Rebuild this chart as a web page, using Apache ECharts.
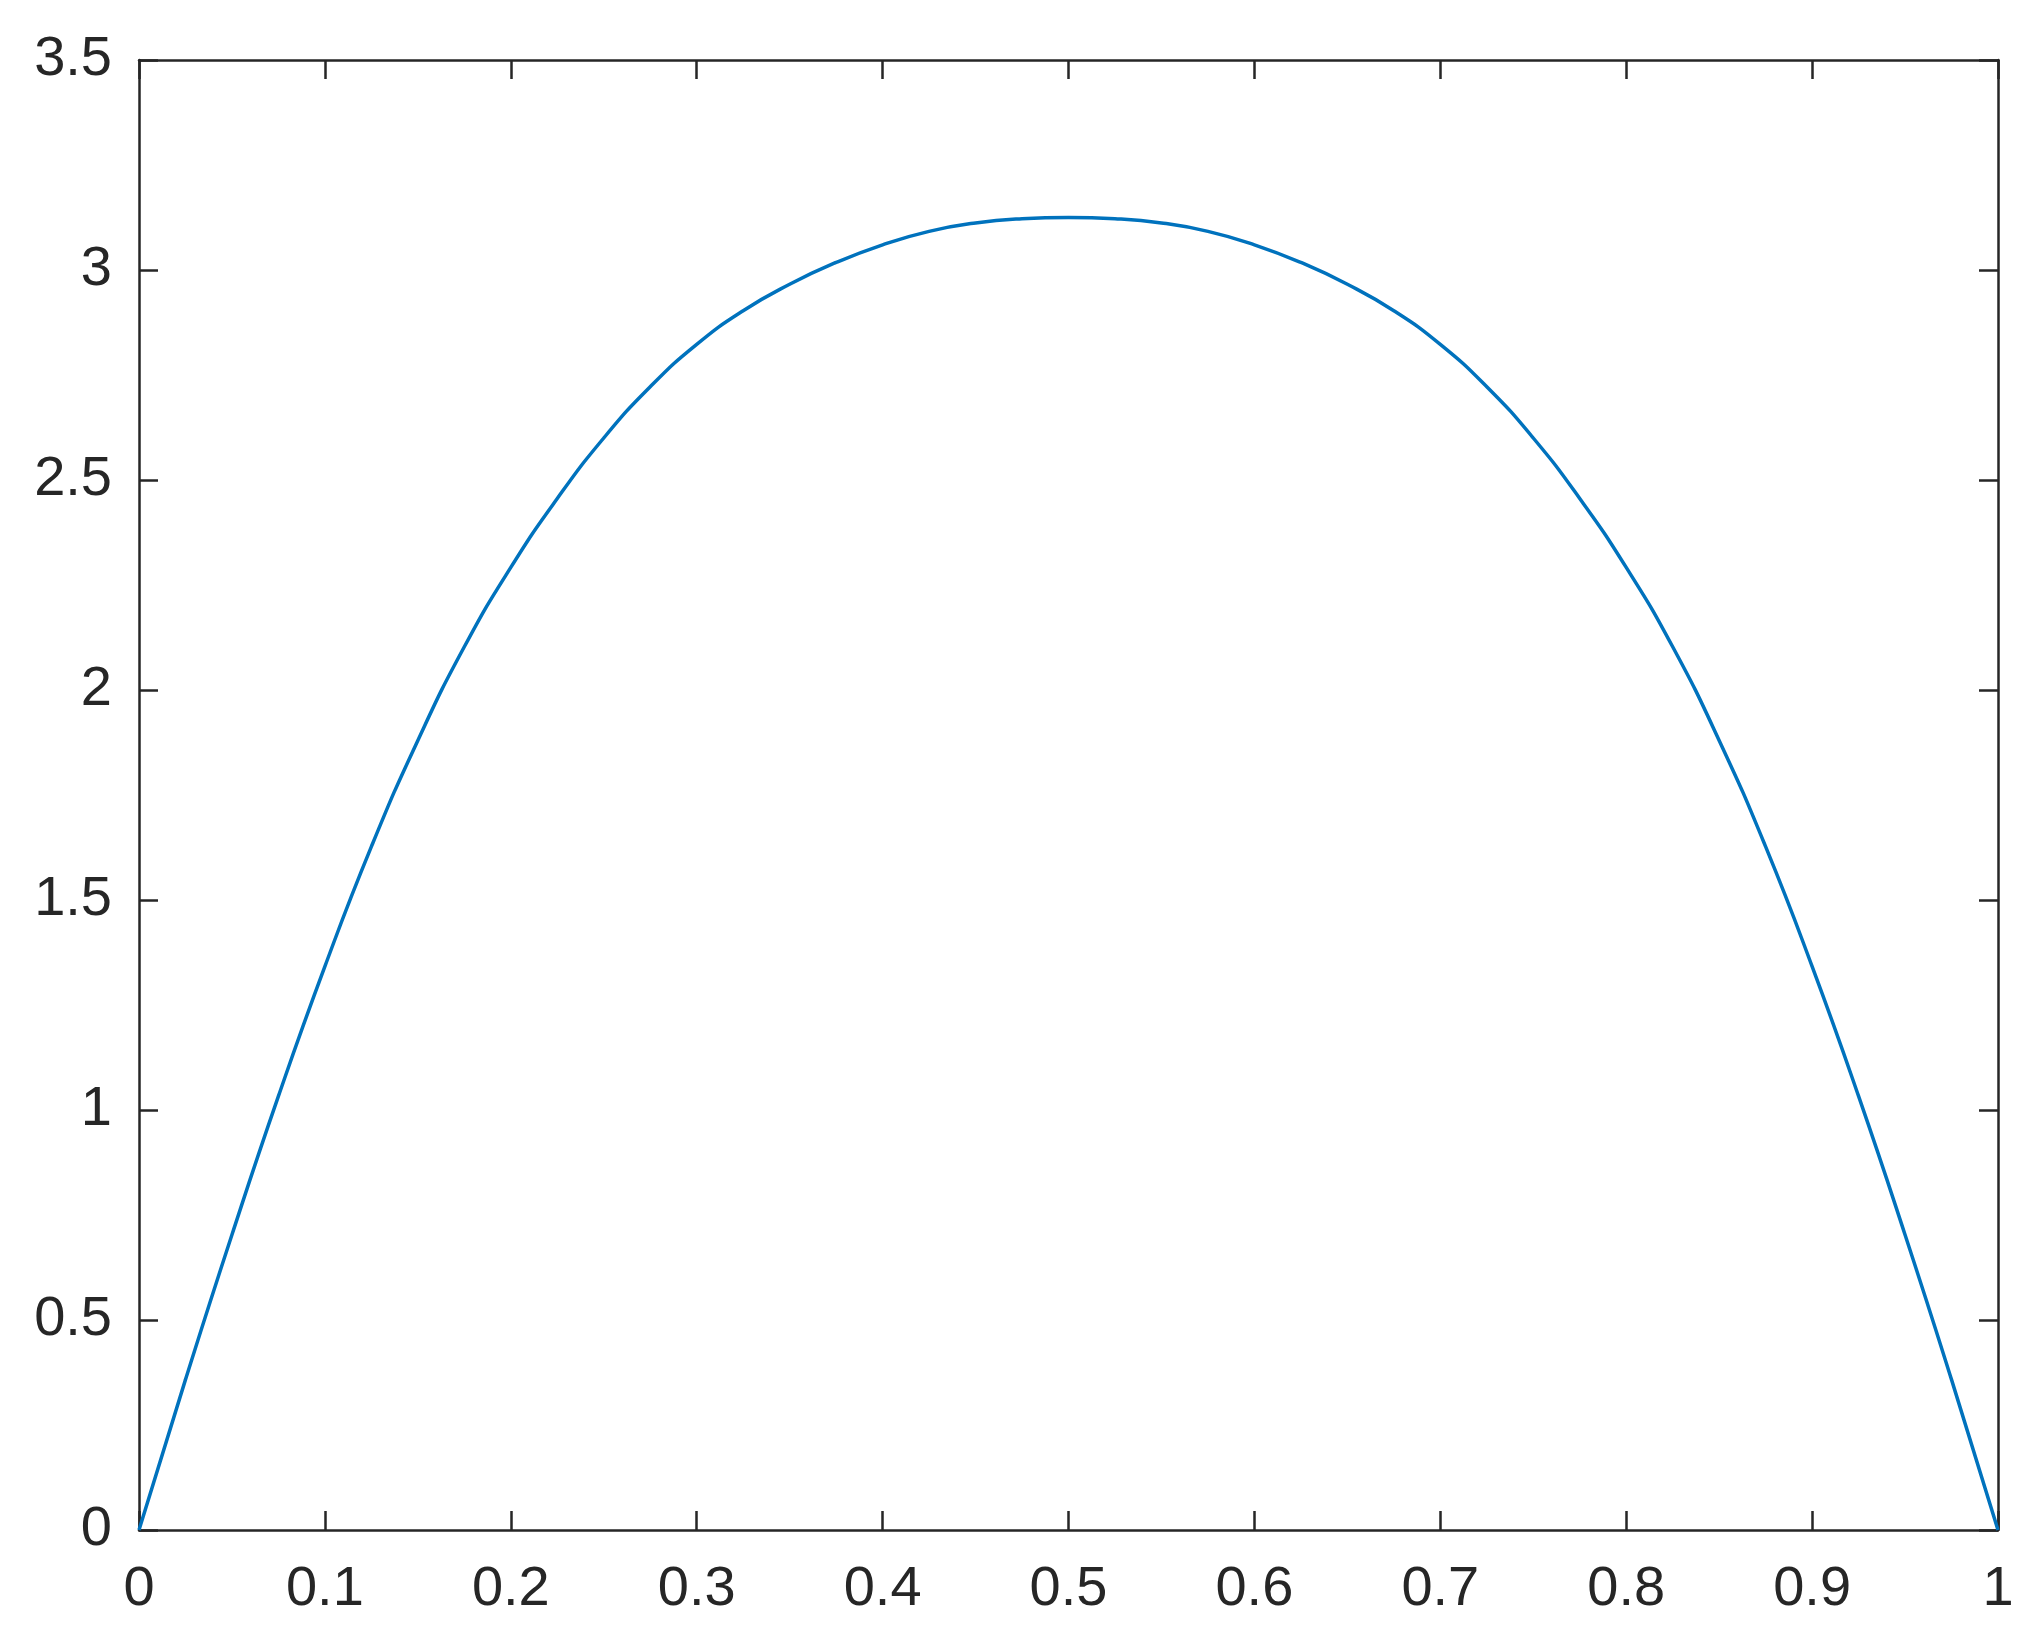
<!DOCTYPE html>
<html>
<head>
<meta charset="utf-8">
<script src="https://cdn.jsdelivr.net/npm/echarts@6/dist/echarts.min.js"></script>
<style>
  html, body { margin: 0; padding: 0; background: #fff; }
  #chart { width: 2044px; height: 1651px; }
</style>
</head>
<body>
<div id="chart"></div>
<script>
// curve, every 0.025 along x
const xValues = [0, 0.025, 0.05, 0.075, 0.1, 0.125, 0.15, 0.175, 0.2, 0.225,
    0.25, 0.275, 0.3, 0.325, 0.35, 0.375, 0.4, 0.425, 0.45, 0.475,
    0.5, 0.525, 0.55, 0.575, 0.6, 0.625, 0.65, 0.675, 0.7, 0.725,
    0.75, 0.775, 0.8, 0.825, 0.85, 0.875, 0.9, 0.925, 0.95, 0.975, 1];
const yValues = [0, 0.358, 0.703, 1.033, 1.342, 1.627, 1.880, 2.103, 2.292, 2.456,
    2.600, 2.722, 2.823, 2.903, 2.966, 3.018, 3.060, 3.092, 3.112, 3.122,
    3.125, 3.122, 3.112, 3.092, 3.060, 3.018, 2.966, 2.903, 2.823, 2.722,
    2.600, 2.456, 2.292, 2.103, 1.880, 1.627, 1.342, 1.033, 0.703, 0.358, 0];

const axisColor = '#262626';
const labelFont = {
    color: axisColor,
    fontFamily: 'Liberation Sans',
    fontSize: 56
};

const chart = echarts.init(document.getElementById('chart'));

function boxAxis(position, min, max, interval, labels, margin) {
    return {
        type: 'value',
        position: position,
        min: min,
        max: max,
        interval: interval,
        axisLine: { show: true, onZero: false, lineStyle: { color: axisColor, width: 2.5 } },
        axisTick: { show: true, inside: true, length: 19, lineStyle: { color: axisColor, width: 2.5 } },
        splitLine: { show: false },
        axisLabel: Object.assign({ show: labels, margin: margin }, labelFont)
    };
}

chart.setOption({
    animation: false,
    backgroundColor: '#fff',
    grid: { left: 139, right: 46, top: 60, bottom: 121 },
    xAxis: [
        boxAxis('bottom', 0, 1, 0.1, true, 32),
        boxAxis('top', 0, 1, 0.1, false, 0)
    ],
    yAxis: [
        boxAxis('left', 0, 3.5, 0.5, true, 27),
        boxAxis('right', 0, 3.5, 0.5, false, 0)
    ],
    series: [
        {
            type: 'line',
            data: xValues.map((x, i) => [x, yValues[i]]),
            smooth: true,
            showSymbol: false,
            lineStyle: { color: '#0072BD', width: 3.5 }
        }
    ]
});
</script>
</body>
</html>
